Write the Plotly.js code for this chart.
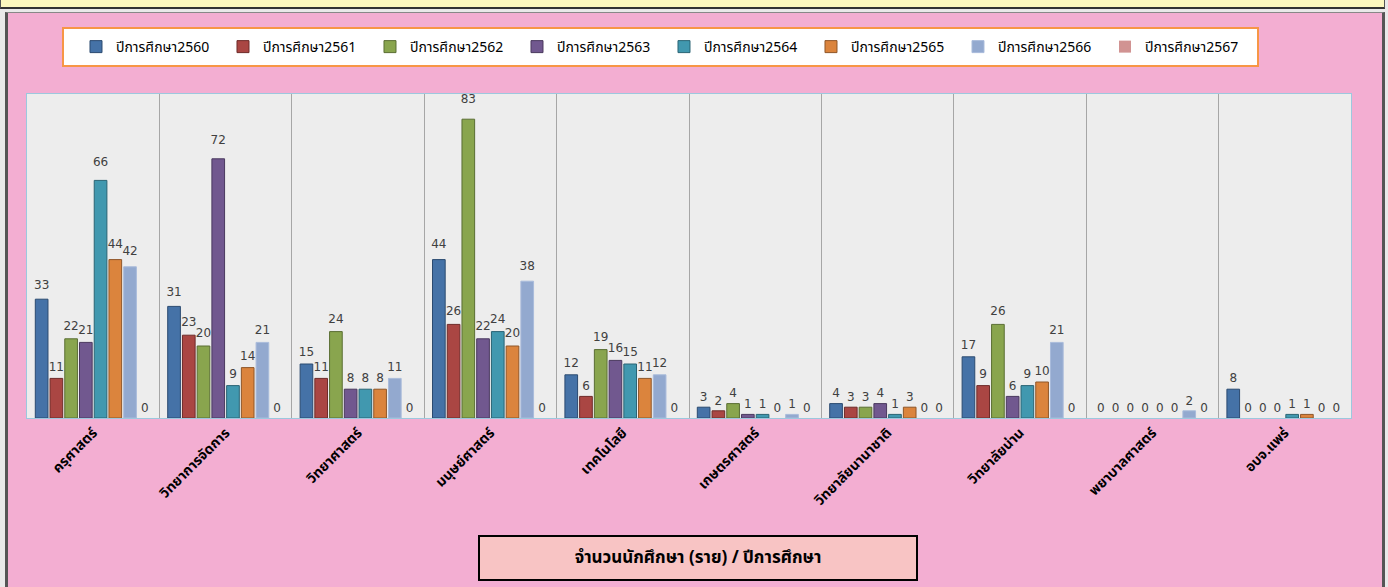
<!DOCTYPE html>
<html>
<head>
<meta charset="utf-8">
<script src="https://cdn.plot.ly/plotly-3.0.1.min.js"></script>
<style>
  html, body { margin: 0; padding: 0; width: 1388px; height: 587px; overflow: hidden; background: #e9e9e9; }
  #topbar { position: absolute; left: 0; top: 0; width: 1383px; height: 7px; background: #FCF8BE; border: 1px solid #555; border-top: none; border-bottom: 2px solid #333; }
  #panel { position: absolute; left: 5px; top: 12px; width: 1374px; height: 575px; background: #F3AED2; border-left: 3px solid #555; border-right: 3px solid #555; border-top: 1px solid #888; }
  #chart { position: absolute; left: 0; top: 0; width: 1388px; height: 587px; }
</style>
</head>
<body>
<div id="topbar"></div>
<div id="panel"></div>
<div id="chart"></div>
<script>
const categories = ['ครุศาสตร์', 'วิทยาการจัดการ', 'วิทยาศาสตร์', 'มนุษย์ศาสตร์', 'เทคโนโลยี', 'เกษตรศาสตร์', 'วิทยาลัยนานาชาติ', 'วิทยาลัยน่าน', 'พยาบาลศาสตร์', 'อบจ.แพร่'];
const seriesNames = ['ปีการศึกษา2560', 'ปีการศึกษา2561', 'ปีการศึกษา2562', 'ปีการศึกษา2563', 'ปีการศึกษา2564', 'ปีการศึกษา2565', 'ปีการศึกษา2566', 'ปีการศึกษา2567'];
const y2560 = [33, 31, 15, 44, 12, 3, 4, 17, 0, 8];
const y2561 = [11, 23, 11, 26, 6, 2, 3, 9, 0, 0];
const y2562 = [22, 20, 24, 83, 19, 4, 3, 26, 0, 0];
const y2563 = [21, 72, 8, 22, 16, 1, 4, 6, 0, 0];
const y2564 = [66, 9, 8, 24, 15, 1, 1, 9, 0, 1];
const y2565 = [44, 14, 8, 20, 11, 0, 3, 10, 0, 1];
const y2566 = [42, 21, 11, 38, 12, 1, 0, 21, 2, 0];
const y2567 = [0, 0, 0, 0, 0, 0, 0, 0, 0, 0];
const titleText = 'จำนวนนักศึกษา (ราย) / ปีการศึกษา';

const seriesValues = [y2560, y2561, y2562, y2563, y2564, y2565, y2566, y2567];
const fills = ['#4572A7', '#AA4643', '#89A54E', '#71588F', '#4198AF', '#DB843D', '#93A9CF', '#D19392'];
const outlines = ['#2B4A70', '#6E2B29', '#5A6E33', '#4A395E', '#2A6474', '#8F5628', '#A9BBDB', '#B07877'];

const thaiFont = "'Noto Sans Thai', 'Noto Serif Thai', 'TH Sarabun New', Loma, Garuda, 'Noto Sans', sans-serif";

// label lift: value labels sit a few pixels higher than Plotly's default outside pad
const plotH = 324, liftPx = 11;
const liftFrac = liftPx / plotH;
const yMax = 90;

const barTraces = seriesValues.map((vals, i) => ({
  type: 'bar',
  name: seriesNames[i],
  x: categories,
  y: vals,
  xaxis: 'x', yaxis: 'y',
  marker: { color: fills[i], line: { color: outlines[i], width: vals.map(v => v ? 1 : 0) } },
  hoverinfo: 'x+y+name'
}));

const labelTraces = seriesValues.map((vals, i) => ({
  type: 'bar',
  name: seriesNames[i],
  showlegend: false,
  x: categories,
  y: vals,
  xaxis: 'x', yaxis: 'y2',
  marker: { color: 'rgba(0,0,0,0)', line: { width: 0 } },
  text: vals.map(v => String(v)),
  texttemplate: '%{text}',
  textposition: 'outside',
  textangle: 0,
  constraintext: 'none',
  cliponaxis: false,
  textfont: { family: 'DejaVu Sans, Verdana, sans-serif', size: 12, color: '#404040' },
  hoverinfo: 'skip'
}));

const layout = {
  width: 1388,
  height: 587,
  margin: { l: 27, r: 37, t: 94, b: 169 },
  paper_bgcolor: 'rgba(0,0,0,0)',
  plot_bgcolor: '#EDEDED',
  barmode: 'group',
  bargap: 0.11,
  bargroupgap: 0.14,
  showlegend: true,
  hovermode: 'closest',
  legend: {
    orientation: 'h',
    x: 0.037, xanchor: 'left',
    y: 1.145, yanchor: 'middle',
    bgcolor: 'rgba(0,0,0,0)',
    borderwidth: 0,
    entrywidth: 102,
    entrywidthmode: 'pixels',
    font: { family: thaiFont, size: 14, color: '#000000' },
    traceorder: 'normal'
  },
  shapes: [{
    type: 'rect', xref: 'paper', yref: 'paper', layer: 'below',
    x0: 0.02719, x1: 0.92976, y0: 1.0864, y1: 1.2037,
    fillcolor: '#FFFFFF',
    line: { color: '#F79646', width: 2 }
  }],
  xaxis: {
    type: 'category',
    tickson: 'boundaries',
    showgrid: true,
    gridcolor: '#A6A6A6',
    gridwidth: 1,
    ticks: '',
    tickangle: -45,
    tickfont: { family: thaiFont, size: 14, color: '#000000', weight: 'bold' },
    showline: true,
    mirror: true,
    linecolor: '#9CC8DE',
    linewidth: 1,
    zeroline: false
  },
  yaxis: {
    range: [0, yMax],
    showgrid: false,
    showticklabels: false,
    ticks: '',
    zeroline: false,
    showline: true,
    mirror: true,
    linecolor: '#9CC8DE',
    linewidth: 1
  },
  yaxis2: {
    overlaying: 'y',
    domain: [liftFrac, 1],
    range: [0, yMax * (1 - liftFrac)],
    showgrid: false,
    showticklabels: false,
    ticks: '',
    zeroline: false,
    showline: false
  },
  annotations: [{
    xref: 'paper', yref: 'paper',
    x: 0.5068, y: -0.4306,
    xanchor: 'center', yanchor: 'middle',
    text: '<b>' + titleText + '</b>',
    showarrow: false,
    font: { family: thaiFont, size: 17, color: '#000000' },
    bgcolor: '#F8C4C4',
    bordercolor: '#000000',
    borderwidth: 2,
    width: 434,
    height: 40,
    align: 'center',
    valign: 'middle'
  }]
};

Plotly.newPlot('chart', barTraces.concat(labelTraces), layout, { displayModeBar: false, responsive: false });
</script>
</body>
</html>
